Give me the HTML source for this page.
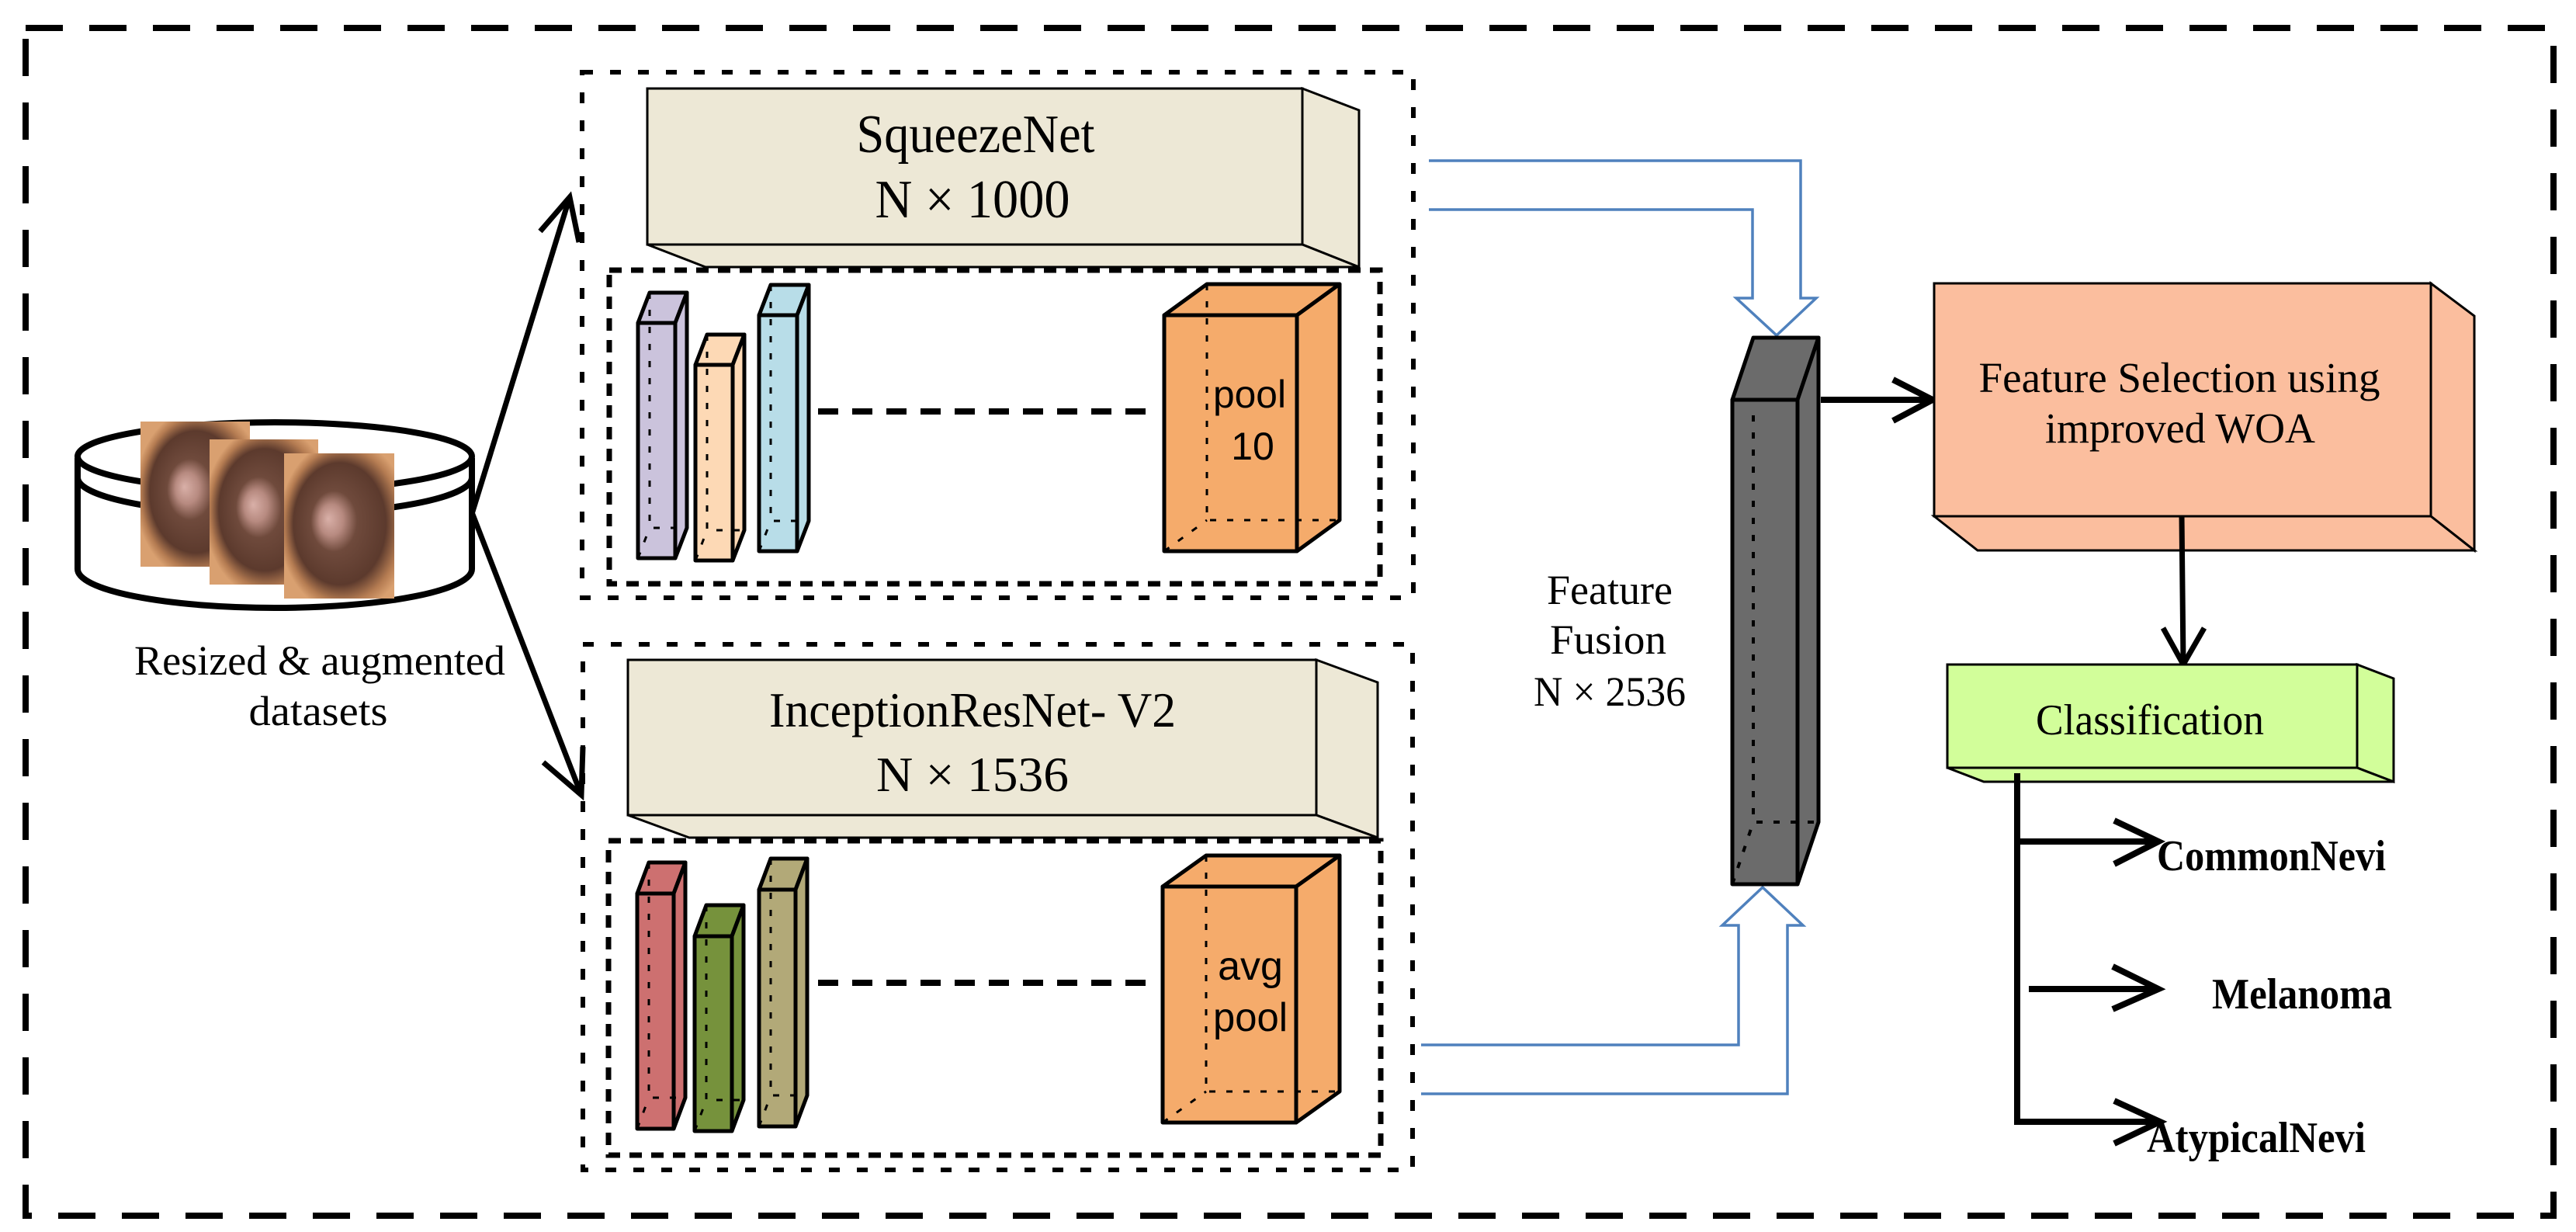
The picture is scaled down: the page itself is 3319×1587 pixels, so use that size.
<!DOCTYPE html>
<html><head><meta charset="utf-8"><style>
html,body{margin:0;padding:0;background:#fff;}
svg{display:block;}
text{font-family:"Liberation Serif",serif;fill:#000;}
.sans{font-family:"Liberation Sans",sans-serif;}
</style></head><body>
<svg width="3319" height="1587" viewBox="0 0 3319 1587" xmlns="http://www.w3.org/2000/svg">
<defs>
<radialGradient id="skin" cx="0.55" cy="0.5" r="0.6" fx="0.4" fy="0.45">
<stop offset="0" stop-color="#d9b0a8"/><stop offset="0.18" stop-color="#b78a80"/><stop offset="0.35" stop-color="#6f4a3c"/><stop offset="0.7" stop-color="#5c3a2d"/><stop offset="0.88" stop-color="#b57c52"/><stop offset="1" stop-color="#d9a070"/>
</radialGradient>
</defs>
<rect x="33" y="36" width="3257" height="1530" fill="none" stroke="#000" stroke-width="8" stroke-dasharray="48 34"/>

<g fill="none" stroke="#000" stroke-width="8">
<path d="M100,590 V733 A254,50 0 0 0 608,733 V590" fill="#fff"/>
<path d="M100,615 A254,48 0 0 0 608,615"/>
<ellipse cx="354" cy="588" rx="254" ry="44" fill="#fff"/>
</g>
<rect x="181" y="543" width="141" height="187" fill="url(#skin)"/>
<rect x="270" y="566" width="140" height="187" fill="url(#skin)"/>
<rect x="366" y="584" width="142" height="187" fill="url(#skin)"/>
<text x="412" y="869" font-size="54" text-anchor="middle" textLength="478" lengthAdjust="spacingAndGlyphs">Resized &amp; augmented</text>
<text x="410" y="934" font-size="54" text-anchor="middle" textLength="179" lengthAdjust="spacingAndGlyphs">datasets</text>

<g stroke="#000" stroke-width="7" fill="none">
<path d="M608,662 L734,254"/><path d="M696,298 L734,254 L746,312"/>
<path d="M608,660 L749,1024"/><path d="M700,982 L749,1024 L751,962"/>
</g>

<rect x="750" y="93" width="1071" height="677" fill="none" stroke="#000" stroke-width="6" stroke-dasharray="14 22"/>
<g stroke="#000" stroke-width="3" fill="#EDE8D6">
<polygon points="1678,114 1751,142 1751,344 1678,315"/>
<polygon points="834,315 909,344 1751,344 1678,315"/>
<rect x="834" y="114" width="844" height="201"/>
</g>
<text x="1257" y="196" font-size="70" text-anchor="middle" textLength="307" lengthAdjust="spacingAndGlyphs">SqueezeNet</text>
<text x="1253" y="280" font-size="70" text-anchor="middle" textLength="251" lengthAdjust="spacingAndGlyphs">N × 1000</text>
<rect x="785" y="348" width="993" height="404" fill="none" stroke="#000" stroke-width="7" stroke-dasharray="16 12"/>

<g stroke="#000" stroke-width="5" stroke-linejoin="round">
<g fill="#CBC3DC"><rect x="822" y="416" width="48" height="303"/><polygon points="822,416 837,377 885,377 870,416"/><polygon points="870,416 885,377 885,680 870,719"/></g>
<g fill="#FDD9B5"><rect x="896" y="470" width="48" height="252"/><polygon points="896,470 911,431 959,431 944,470"/><polygon points="944,470 959,431 959,683 944,722"/></g>
<g fill="#B8DDE8"><rect x="978" y="406" width="49" height="304"/><polygon points="978,406 993,367 1042,367 1027,406"/><polygon points="1027,406 1042,367 1042,671 1027,710"/></g>
<g fill="#F5AB6B"><rect x="1500" y="406" width="171" height="304"/><polygon points="1500,406 1555,366 1726,366 1671,406"/><polygon points="1671,406 1726,366 1726,670 1671,710"/></g>
</g>
<g stroke="#000" stroke-width="3" stroke-dasharray="8 14" fill="none">
<path d="M837,377 V680 H885 M822,719 L837,680"/>
<path d="M911,431 V683 H959 M896,722 L911,683"/>
<path d="M993,367 V671 H1042 M978,710 L993,671"/>
<path d="M1555,366 V670 H1726 M1500,710 L1555,670"/>
</g>
<line x1="1054" y1="530" x2="1489" y2="530" stroke="#000" stroke-width="8" stroke-dasharray="26 18"/>
<text class="sans" x="1610" y="525" font-size="50" text-anchor="middle" textLength="94" lengthAdjust="spacingAndGlyphs">pool</text>
<text class="sans" x="1614" y="592" font-size="50" text-anchor="middle">10</text>

<rect x="751" y="830" width="1069" height="677" fill="none" stroke="#000" stroke-width="6" stroke-dasharray="14 22"/>
<g stroke="#000" stroke-width="3" fill="#EDE8D6">
<polygon points="1696,850 1775,879 1775,1079 1696,1050"/>
<polygon points="809,1050 888,1079 1775,1079 1696,1050"/>
<rect x="809" y="850" width="887" height="200"/>
</g>
<text x="1253" y="936" font-size="64" text-anchor="middle" textLength="524" lengthAdjust="spacingAndGlyphs">InceptionResNet- V2</text>
<text x="1253" y="1019" font-size="64" text-anchor="middle" textLength="248" lengthAdjust="spacingAndGlyphs">N × 1536</text>
<rect x="784" y="1083" width="995" height="405" fill="none" stroke="#000" stroke-width="7" stroke-dasharray="16 12"/>

<g stroke="#000" stroke-width="5" stroke-linejoin="round">
<g fill="#CD7070"><rect x="821" y="1151" width="47" height="303"/><polygon points="821,1151 836,1111 883,1111 868,1151"/><polygon points="868,1151 883,1111 883,1414 868,1454"/></g>
<g fill="#76923C"><rect x="895" y="1206" width="48" height="251"/><polygon points="895,1206 910,1166 958,1166 943,1206"/><polygon points="943,1206 958,1166 958,1417 943,1457"/></g>
<g fill="#B2A978"><rect x="978" y="1146" width="47" height="305"/><polygon points="978,1146 993,1106 1040,1106 1025,1146"/><polygon points="1025,1146 1040,1106 1040,1411 1025,1451"/></g>
<g fill="#F5AB6B"><rect x="1498" y="1142" width="172" height="304"/><polygon points="1498,1142 1554,1102 1726,1102 1670,1142"/><polygon points="1670,1142 1726,1102 1726,1406 1670,1446"/></g>
</g>
<g stroke="#000" stroke-width="3" stroke-dasharray="8 14" fill="none">
<path d="M836,1111 V1414 H883 M821,1454 L836,1414"/>
<path d="M910,1166 V1417 H958 M895,1457 L910,1417"/>
<path d="M993,1106 V1411 H1040 M978,1451 L993,1411"/>
<path d="M1554,1102 V1406 H1726 M1498,1446 L1554,1406"/>
</g>
<line x1="1054" y1="1266" x2="1488" y2="1266" stroke="#000" stroke-width="8" stroke-dasharray="26 18"/>
<text class="sans" x="1611" y="1262" font-size="52" text-anchor="middle">avg</text>
<text class="sans" x="1611" y="1328" font-size="52" text-anchor="middle" textLength="96" lengthAdjust="spacingAndGlyphs">pool</text>

<g fill="none" stroke="#4F81BD" stroke-width="3.5" stroke-linejoin="miter">
<path d="M1841,207 H2320 V384 H2340 L2289,432 L2237,384 H2258 V270 H1841"/>
<path d="M1831,1346 H2240 V1192 H2219 L2271,1143 L2323,1192 H2303 V1409 H1831"/>
</g>

<text x="2074" y="778" font-size="54" text-anchor="middle" textLength="162" lengthAdjust="spacingAndGlyphs">Feature</text>
<text x="2072" y="842" font-size="54" text-anchor="middle" textLength="150" lengthAdjust="spacingAndGlyphs">Fusion</text>
<text x="2074" y="909" font-size="54" text-anchor="middle" textLength="196" lengthAdjust="spacingAndGlyphs">N × 2536</text>

<g stroke="#000" stroke-width="5" fill="#6b6b6b" stroke-linejoin="round">
<rect x="2232" y="515" width="84" height="624"/>
<polygon points="2232,515 2259,435 2343,435 2316,515"/>
<polygon points="2316,515 2343,435 2343,1059 2316,1139"/>
</g>
<path d="M2259,535 V1059 H2343 M2232,1139 L2259,1059" fill="none" stroke="#000" stroke-width="4" stroke-dasharray="8 14"/>

<g stroke="#000" stroke-width="8" fill="none">
<path d="M2346,515 H2490"/><path d="M2439,489 L2490,515 L2439,542"/>
</g>

<g stroke="#000" stroke-width="3" fill="#FBBE9E">
<polygon points="3132,365 3188,407 3188,709 3132,665"/>
<polygon points="2492,665 2548,709 3188,709 3132,665"/>
<rect x="2492" y="365" width="640" height="300"/>
</g>
<text x="2808" y="505" font-size="55" text-anchor="middle" textLength="517" lengthAdjust="spacingAndGlyphs">Feature Selection using</text>
<text x="2809" y="570" font-size="55" text-anchor="middle" textLength="348" lengthAdjust="spacingAndGlyphs">improved WOA</text>

<g stroke="#000" stroke-width="7" fill="none">
<path d="M2811,665 L2813,854"/><path d="M2787,809 L2813,856 L2840,809"/>
</g>

<g stroke="#000" stroke-width="3" fill="#D2FE9A">
<polygon points="3037,856 3084,874 3084,1007 3037,989"/>
<polygon points="2509,989 2556,1007 3084,1007 3037,989"/>
<rect x="2509" y="856" width="528" height="133"/>
</g>
<text x="2770" y="946" font-size="56" text-anchor="middle" textLength="294" lengthAdjust="spacingAndGlyphs">Classification</text>

<g stroke="#000" stroke-width="8" fill="none">
<path d="M2599,996 V1445 H2781"/>
<path d="M2599,1084 H2781"/>
<path d="M2614,1274 H2781"/>
<path d="M2724,1057 L2781,1084 L2724,1113"/>
<path d="M2722,1245 L2781,1274 L2722,1300"/>
<path d="M2724,1418 L2783,1445 L2724,1473"/>
</g>
<text x="2779" y="1121" font-size="56" font-weight="bold" textLength="295" lengthAdjust="spacingAndGlyphs">CommonNevi</text>
<text x="2850" y="1299" font-size="56" font-weight="bold" textLength="232" lengthAdjust="spacingAndGlyphs">Melanoma</text>
<text x="2766" y="1484" font-size="56" font-weight="bold" textLength="282" lengthAdjust="spacingAndGlyphs">AtypicalNevi</text>
</svg>
</body></html>
